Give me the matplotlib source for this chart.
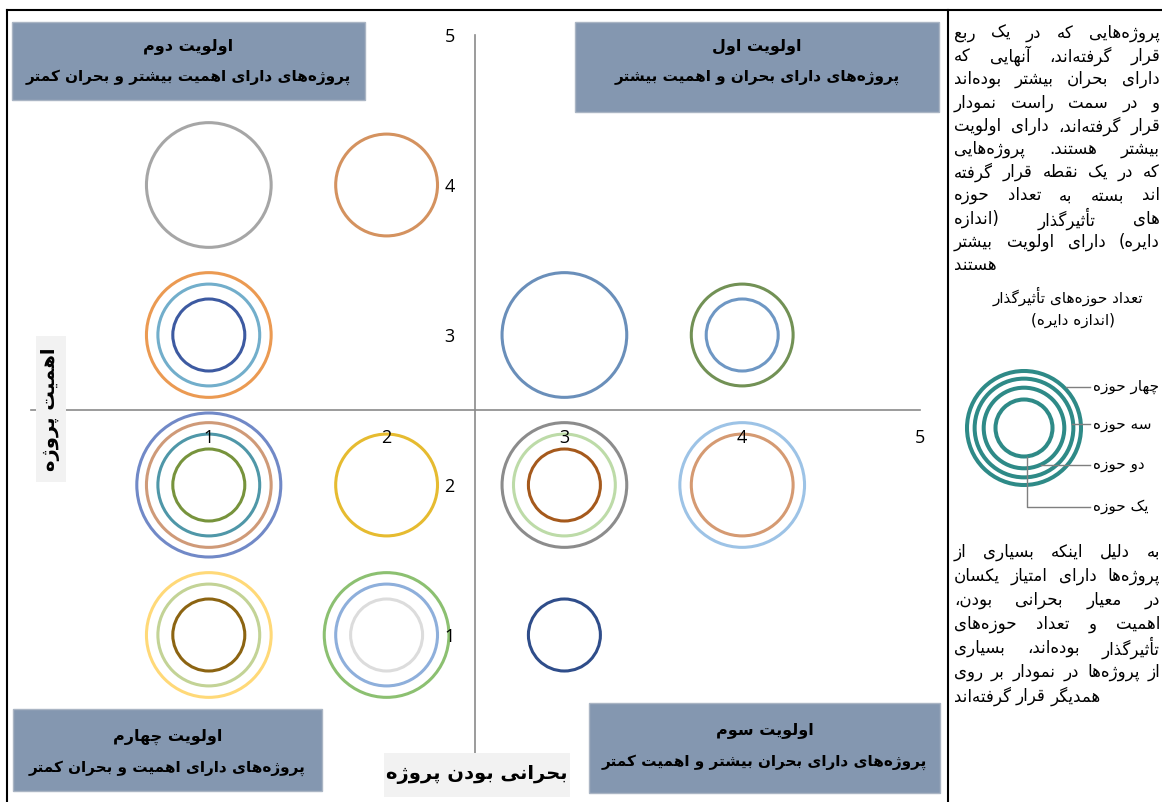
import matplotlib
matplotlib.use('Agg')
import matplotlib.pyplot as plt
from matplotlib.patches import Rectangle, Circle
import numpy as np

# --- bubble data -------------------------------------------------------
# x = criticality of the project, y = importance, size = number of affected areas
criticality = [1, 2, 1, 1, 1, 3, 4, 4, 1, 1, 1, 1, 2, 3, 3, 3, 4, 4, 1, 1, 1, 2, 2, 2, 3]
importance = [4, 4, 3, 3, 3, 3, 3, 3, 2, 2, 2, 2, 2, 2, 2, 2, 2, 2, 1, 1, 1, 1, 1, 1, 1]
areas = [3, 2, 3, 2, 1, 3, 2, 1, 4, 3, 2, 1, 2, 3, 2, 1, 3, 2, 3, 2, 1, 3, 2, 1, 1]
ring_colors = ['#a6a6a6', '#d4925f', '#eb9a52', '#72aecb', '#3d5aa1', '#6a8fba',
               '#729155', '#6e97c4', '#7189c7', '#cf9a78', '#4f97a8', '#77933c',
               '#e6bb30', '#8c8c8c', '#bddba8', '#a5591c', '#9dc3e6', '#d59a72',
               '#ffd978', '#c3d396', '#8c6412', '#8cc071', '#8eafdb', '#dcdcdc',
               '#2f4d8a']
ticks = [1, 2, 3, 4, 5]

# --- texts ----------------------------------------------------------------
ZW = '\u200c'
quad_titles = ['اولویت دوم', 'اولویت اول', 'اولویت چهارم', 'اولویت سوم']
quad_desc = ['پروژه' + ZW + 'های دارای اهمیت بیشتر و بحران کمتر',
             'پروژه' + ZW + 'های دارای بحران و اهمیت بیشتر',
             'پروژه' + ZW + 'های دارای اهمیت و بحران کمتر',
             'پروژه' + ZW + 'های دارای بحران بیشتر و اهمیت کمتر']
x_title = 'بحرانی بودن پروژه'
y_title = 'اهمیت پروژه'
note_lines = ['پروژه' + ZW + 'هایی که در یک ربع',
              'قرار گرفته' + ZW + 'اند، آنهایی که',
              'دارای بحران بیشتر بوده' + ZW + 'اند',
              'و در سمت راست نمودار',
              'قرار گرفته' + ZW + 'اند، دارای اولویت',
              'بیشتر هستند. پروژه' + ZW + 'هایی',
              'که در یک نقطه قرار گرفته',
              'اند بسته به تعداد حوزه',
              'های تأثیرگذار (اندازه',
              'دایره) دارای اولویت بیشتر',
              'هستند']
note2_lines = ['به دلیل اینکه بسیاری از',
               'پروژه' + ZW + 'ها دارای امتیاز یکسان',
               'در معیار بحرانی بودن،',
               'اهمیت و تعداد حوزه' + ZW + 'های',
               'تأثیرگذار بوده' + ZW + 'اند، بسیاری',
               'از پروژه' + ZW + 'ها در نمودار بر روی',
               'همدیگر قرار گرفته' + ZW + 'اند']
legend_title = ['تعداد حوزه' + ZW + 'های تأثیرگذار', '(اندازه دایره)']
legend_labels = ['یک حوزه', 'دو حوزه', 'سه حوزه', 'چهار حوزه']
legend_areas = [1, 2, 3, 4]

# --- minimal Persian shaping (presentation forms + RTL order) ----------
DUAL = {'ب': 0xFE8F, 'ت': 0xFE95, 'ث': 0xFE99, 'ج': 0xFE9D, 'ح': 0xFEA1,
        'خ': 0xFEA5, 'س': 0xFEB1, 'ش': 0xFEB5, 'ص': 0xFEB9, 'ض': 0xFEBD,
        'ط': 0xFEC1, 'ظ': 0xFEC5, 'ع': 0xFEC9, 'غ': 0xFECD, 'ف': 0xFED1,
        'ق': 0xFED5, 'ل': 0xFEDD, 'م': 0xFEE1, 'ن': 0xFEE5, 'ه': 0xFEE9,
        'پ': 0xFB56, 'چ': 0xFB7A, 'ک': 0xFB8E, 'گ': 0xFB92, 'ی': 0xFBFC}
RIGHT = {'ا': 0xFE8D, 'آ': 0xFE81, 'أ': 0xFE83, 'د': 0xFEA9, 'ذ': 0xFEAB,
         'ر': 0xFEAD, 'ز': 0xFEAF, 'ژ': 0xFB8A, 'و': 0xFEED}
MIRROR = {'(': ')', ')': '('}


def fa(s):
    out = []
    for i, c in enumerate(s):
        if c in DUAL or c in RIGHT:
            p = s[i - 1] if i > 0 else ''
            n = s[i + 1] if i + 1 < len(s) else ''
            after = p in DUAL
            before = c in DUAL and (n in DUAL or n in RIGHT)
            base = DUAL.get(c, RIGHT.get(c))
            k = 3 if (after and before) else 2 if before else 1 if after else 0
            out.append(chr(base + k))
        elif c == ZW:
            continue
        else:
            out.append(MIRROR.get(c, c))
    return ''.join(reversed(out))


FA = ['DejaVu Sans']
W, H = 1162, 802
plt.rcParams['font.family'] = ['Open Sans', 'DejaVu Sans']
fig = plt.figure(figsize=(W / 100, H / 100), dpi=100)
fig.patch.set_facecolor('white')

# --- main bubble chart -----------------------------------------------------
ax = fig.add_axes([31 / W, 1 - 785 / H, 889 / W, 750 / H])
r1 = 36  # px radius of a one-area bubble
s_unit = (2 * r1 * 72 / 100) ** 2
ax.scatter(criticality, importance, s=np.array(areas) * s_unit,
           facecolors='none', edgecolors=ring_colors, linewidths=2.2,
           clip_on=False, zorder=1)
ax.set_xlim(0, 5)
ax.set_ylim(0, 5)
for side in ['top', 'right']:
    ax.spines[side].set_visible(False)
for side in ['left', 'bottom']:
    ax.spines[side].set_position(('data', 2.5))
    ax.spines[side].set_color('#8a8a8a')
    ax.spines[side].set_linewidth(1.2)
ax.set_xticks(ticks)
ax.set_yticks(ticks)
ax.tick_params(axis='x', length=0, labelsize=13, pad=14)
ax.tick_params(axis='y', length=0, labelsize=13, pad=15)
ax.patch.set_visible(False)

# --- overlay in pixel coordinates ---------------------------------------
ov = fig.add_axes([0, 0, 1, 1])
ov.set_xlim(0, W)
ov.set_ylim(H, 0)
ov.axis('off')
ov.patch.set_visible(False)

# frame lines
ov.plot([7, W], [10, 10], color='black', lw=1.5)
ov.plot([7, 7], [10, H], color='black', lw=1.5)
ov.plot([948, 948], [10, H], color='black', lw=1.5)

# quadrant boxes
boxes = [(12, 22, 365, 100), (575, 22, 939, 112), (13, 709, 322, 791), (589, 703, 940, 793)]
text_y = [(46, 77), (46, 77), (737, 768), (730, 762)]
for (x0, y0, x1, y1), (ya, yb), t, d in zip(boxes, text_y, quad_titles, quad_desc):
    ov.add_patch(Rectangle((x0, y0), x1 - x0, y1 - y0, facecolor='#8497b0',
                           edgecolor='#aab5c4', lw=1, zorder=3))
    cx = (x0 + x1) / 2
    ov.text(cx, ya, fa(t), ha='center', va='center', fontsize=11.5,
            fontweight='bold', family=FA, zorder=4)
    ov.text(cx, yb, fa(d), ha='center', va='center', fontsize=11,
            fontweight='bold', family=FA, zorder=4)

# axis titles
ov.add_patch(Rectangle((384, 753), 186, 44, facecolor='#f2f2f2', edgecolor='none', zorder=3))
ov.text(477, 775, fa(x_title), ha='center', va='center', fontsize=14,
        fontweight='bold', family=FA, zorder=4)
ov.add_patch(Rectangle((36, 336), 30, 146, facecolor='#f2f2f2', edgecolor='none', zorder=3))
ov.text(51, 409, fa(y_title), ha='center', va='center', fontsize=14,
        fontweight='bold', family=FA, rotation=90, zorder=4)

# --- right-hand notes (justified RTL lines) -------------------------------
renderer = fig.canvas.get_renderer()
L, R = 954, 1160


def paragraph(lines, y0, dy):
    for i, line in enumerate(lines):
        words = [fa(w) for w in line.split(' ')]
        arts = [ov.text(0, y0 + i * dy, w, ha='left', va='center', fontsize=12,
                        family=FA) for w in words]
        widths = [a.get_window_extent(renderer).width for a in arts]
        if i < len(lines) - 1 and len(words) > 1:
            gap = (R - L - sum(widths)) / (len(words) - 1)
        else:
            gap = 5
        x = L
        for a, w in zip(arts[::-1], widths[::-1]):
            a.set_x(x)
            x += w + gap


paragraph(note_lines, 33, 23.2)
paragraph(note2_lines, 552, 24)

ov.text(1068, 296, fa(legend_title[0]), ha='center', va='center', fontsize=11, family=FA)
ov.text(1073, 320, fa(legend_title[1]), ha='center', va='center', fontsize=11, family=FA)

# size legend
cx, cy, lr = 1024, 428, 28.5
for n in legend_areas:
    ov.add_patch(Circle((cx, cy), lr * np.sqrt(n), facecolor='none',
                        edgecolor='#2e8a87', lw=2.9))
lead = '#7f7f7f'
ov.plot([1027, 1027, 1090], [cy + lr, 507, 507], color=lead, lw=1)
ov.plot([1041, 1090], [465, 465], color=lead, lw=1)
ov.plot([1072, 1090], [424, 424], color=lead, lw=1)
ov.plot([1066, 1090], [387, 387], color=lead, lw=1)
for lab, yy in zip(legend_labels, [507, 465, 424, 387]):
    ov.text(1093, yy, fa(lab), ha='left', va='center', fontsize=11, family=FA)

fig.savefig('out.png', dpi=100, facecolor='white')
